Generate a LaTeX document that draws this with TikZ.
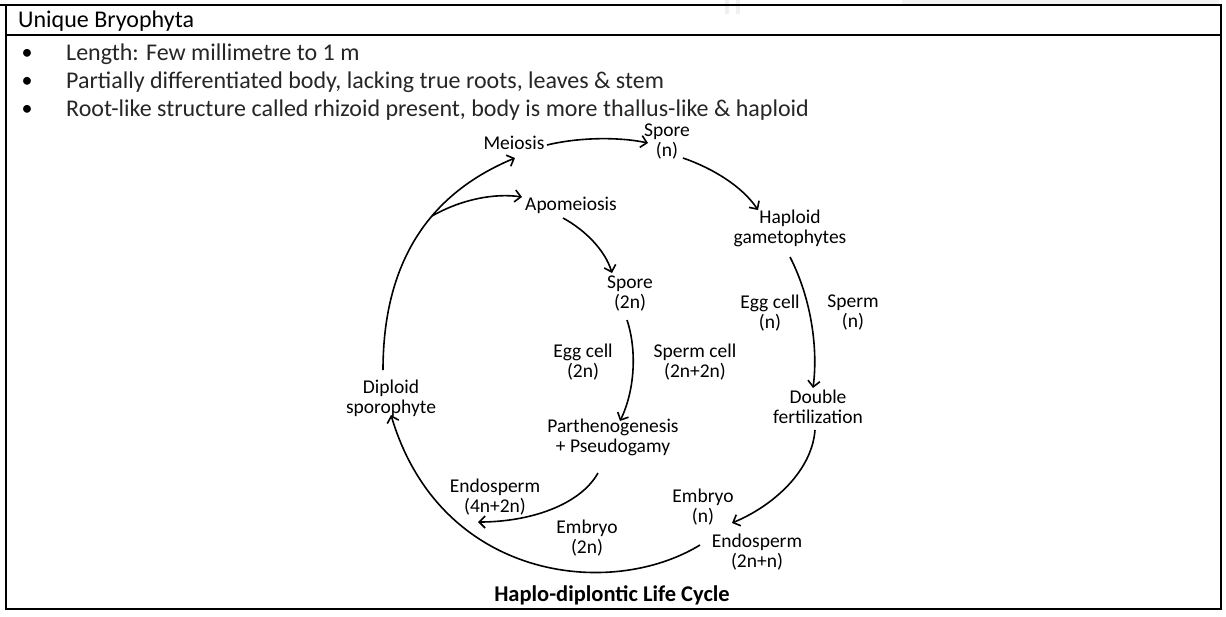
\documentclass[tikz,border=0pt]{standalone}
\usepackage{fontspec}
\setmainfont{Carlito}
\usetikzlibrary{arrows.meta}
\begin{document}
\begin{tikzpicture}[x=1pt,y=-1pt,
  lbl/.style={align=center,inner sep=0pt,font=\fontsize{19.5}{20}\selectfont},
  arr/.style={line width=1.6pt,-{Straight Barb[length=6pt,width=12pt,line width=1.6pt]}},
  frame/.style={line width=2.6pt},
  bul/.style={anchor=west,inner sep=0pt,font=\fontsize{24}{28}\selectfont},
  dot/.style={inner sep=0pt,font=\fontsize{22}{28}\selectfont}]
\useasboundingbox (0,0) rectangle (1226,616);
\fill[white] (0,0) rectangle (1226,616);
% faint watermark remnants
\fill[gray!10] (902,0) rectangle (1219,4);
\fill[gray!12] (725,0) rectangle (729,14);
\fill[gray!12] (736,0) rectangle (740,14);
% table frame
\draw[frame] (0,5) -- (6,5);
\draw[frame,line join=miter] (6,5) rectangle (1221,609);
\draw[frame] (6,35) -- (1221,35);
% header and bullets
\node[bul] (hdr) at (18,21) {Unique Bryophyta};
\node[dot] (d1) at (27,54) {•};
\node[dot] (d2) at (27,82) {•};
\node[dot] (d3) at (27,110) {•};
\node[bul,text=black!85] (t1) at (66,54) {Length: Few millimetre to 1 m};
\node[bul,text=black!85] (t2) at (66,82) {Partially differentiated body, lacking true roots, leaves \& stem};
\node[bul,text=black!85] (t3) at (66,110) {Root-like structure called rhizoid present, body is more thallus-like \& haploid};
% diagram labels
\node[lbl] (meiosis) at (514,143) {Meiosis};
\node[lbl] (spore1) at (667,142) {Spore\\(n)};
\node[lbl] (apo) at (571,205) {Apomeiosis};
\node[lbl] (haploid) at (790,228) {Haploid\\gametophytes};
\node[lbl] (spore2) at (630,294) {Spore\\(2n)};
\node[lbl] (eggn) at (770,313) {Egg cell\\(n)};
\node[lbl] (spermn) at (853,313) {Sperm\\(n)};
\node[lbl] (egg2n) at (583,362) {Egg cell\\(2n)};
\node[lbl] (spermc) at (695,362) {Sperm cell\\(2n+2n)};
\node[lbl] (diploid) at (391,398) {Diploid\\sporophyte};
\node[lbl] (double) at (818,407) {Double\\fertilization};
\node[lbl] (parth) at (613,437) {Parthenogenesis\\+ Pseudogamy};
\node[lbl] (endo4) at (495,497) {Endosperm\\(4n+2n)};
\node[lbl] (embn) at (703,507) {Embryo\\(n)};
\node[lbl] (emb2n) at (587,538) {Embryo\\(2n)};
\node[lbl] (endo2) at (757,552) {Endosperm\\(2n+n)};
\node[inner sep=0pt,font=\bfseries\fontsize{22.5}{24}\selectfont] (title) at (612,595) {Haplo-diplontic Life Cycle};
% connectors
\coordinate (branch) at (432,216);
\draw[arr] ([shift={(33,2)}]meiosis.center) .. controls (580,137) and (620,137) .. ([shift={(-19,1)}]spore1.center);
\draw[arr] ([shift={(16,16)}]spore1.center) .. controls (712,168) and (742,186) .. ([shift={(-32,-18)}]haploid.center);
\draw[arr] ([shift={(0,29)}]haploid.center) .. controls (812,300) and (818,350) .. ([shift={(-5,-19)}]double.center);
\draw[arr] ([shift={(-3,23)}]double.center) .. controls (812,470) and (775,505) .. ([shift={(-25,-29)}]endo2.center);
\draw[arr] ([shift={(-57,-7)}]endo2.center) .. controls (610,600) and (440,580) .. ([shift={(0,17)}]diploid.center);
\draw[arr] ([shift={(-8,-28)}]diploid.center) .. controls (383,240) and (450,185) .. ([shift={(1,15)}]meiosis.center);
\draw[arr] (branch) .. controls (462,199) and (495,193) .. ([shift={(-49,-8)}]apo.center);
\draw[arr] ([shift={(-8,13)}]apo.center) .. controls (585,230) and (605,250) .. ([shift={(-18,-21)}]spore2.center);
\draw[arr] ([shift={(-3,26)}]spore2.center) .. controls (637,350) and (635,390) .. ([shift={(7,-16)}]parth.center);
\draw[arr] ([shift={(-15,36)}]parth.center) .. controls (580,505) and (530,522) .. ([shift={(-17,25)}]endo4.center);
\end{tikzpicture}
\end{document}
